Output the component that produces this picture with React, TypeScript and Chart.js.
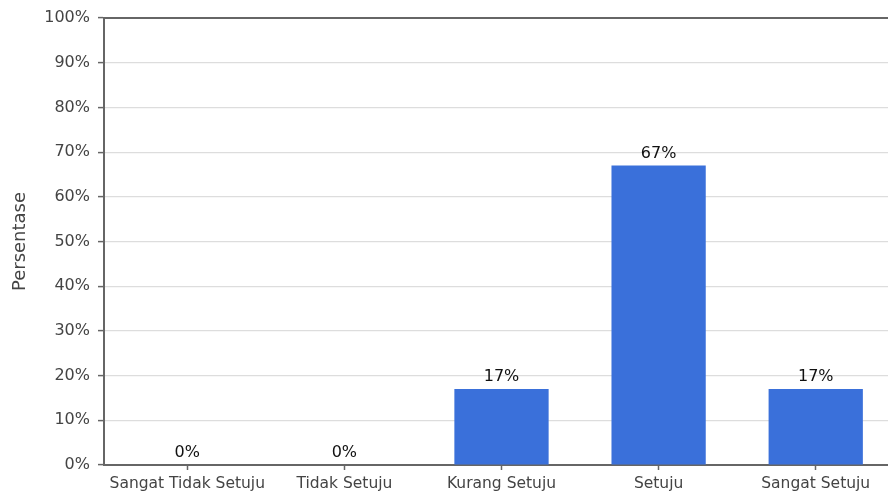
import React, { useEffect, useRef } from "react";
import { Chart, registerables } from "chart.js";

Chart.register(...registerables);

const categories = ["Sangat Tidak Setuju", "Tidak Setuju", "Kurang Setuju", "Setuju", "Sangat Setuju"];
const percentages = [0, 0, 17, 67, 17];
const yTicks = [0, 10, 20, 30, 40, 50, 60, 70, 80, 90, 100];

const FONT = "'DejaVu Sans', sans-serif";
const SPINE = "#666666";

// Value labels above each bar plus the top frame line
const decorations = {
  id: "decorations",
  afterDatasetsDraw(chart: any) {
    const { ctx, chartArea } = chart;
    const meta = chart.getDatasetMeta(0);
    ctx.save();
    ctx.fillStyle = "#111111";
    ctx.font = `16px ${FONT}`;
    ctx.textAlign = "center";
    ctx.textBaseline = "bottom";
    meta.data.forEach((bar: any, i: number) => {
      ctx.fillText(`${percentages[i]}%`, bar.x, bar.y - 4);
    });
    ctx.strokeStyle = SPINE;
    ctx.lineWidth = 2;
    ctx.beginPath();
    ctx.moveTo(chartArea.left - 1, chartArea.top);
    ctx.lineTo(chartArea.right, chartArea.top);
    ctx.stroke();
    ctx.restore();
  },
};

export default function App() {
  const ref = useRef<HTMLCanvasElement>(null);

  useEffect(() => {
    if (!ref.current) return;
    const points = categories.map((_, i) => ({ x: i, y: percentages[i] }));
    const chart = new Chart(ref.current, {
      type: "bar",
      data: {
        datasets: [
          {
            data: points,
            backgroundColor: "#3a70da",
            categoryPercentage: 1,
            barPercentage: 0.6,
          },
        ],
      },
      options: {
        animation: false,
        responsive: false,
        maintainAspectRatio: false,
        layout: { padding: { top: 18, right: 1, left: 0, bottom: 0 } },
        plugins: { legend: { display: false }, tooltip: { enabled: false } },
        scales: {
          x: {
            type: "linear",
            min: -0.53,
            max: categories.length - 1 + 0.53,
            offset: false,
            afterBuildTicks(scale: any) {
              scale.ticks = categories.map((_, i) => ({ value: i }));
            },
            grid: {
              offset: false,
              drawOnChartArea: false,
              drawTicks: true,
              tickLength: 5,
              tickColor: SPINE,
              tickWidth: 1.5,
            },
            border: { color: SPINE, width: 2 },
            ticks: {
              color: "#444444",
              font: { family: FONT, size: 15.5 },
              padding: 5,
              maxRotation: 0,
              autoSkip: false,
              callback: (v: any) => categories[Math.round(Number(v))] ?? "",
            },
            afterFit(scale: any) {
              scale.height = 30;
            },
          },
          y: {
            min: 0,
            max: 100,
            afterBuildTicks(scale: any) {
              scale.ticks = yTicks.map((v) => ({ value: v }));
            },
            grid: {
              color: "#dddddd",
              lineWidth: 1.2,
              drawTicks: true,
              tickLength: 6,
              tickColor: SPINE,
              tickWidth: 1.5,
            },
            border: { color: SPINE, width: 2 },
            ticks: {
              color: "#444444",
              font: { family: FONT, size: 16 },
              padding: 8,
              callback: (v: any) => `${v}%`,
            },
            title: {
              display: true,
              text: "Persentase",
              color: "#444444",
              font: { family: FONT, size: 18 },
              padding: { top: 10, bottom: 0 },
            },
            afterFit(scale: any) {
              scale.width = 104;
            },
          },
        },
      },
      plugins: [decorations],
    });
    return () => chart.destroy();
  }, []);

  return (
    <div
      style={{
        position: "fixed",
        left: 0,
        top: 0,
        width: 888,
        height: 495,
        overflow: "hidden",
        background: "#ffffff",
      }}
    >
      <canvas ref={ref} width={900} height={495} style={{ display: "block" }} />
    </div>
  );
}
